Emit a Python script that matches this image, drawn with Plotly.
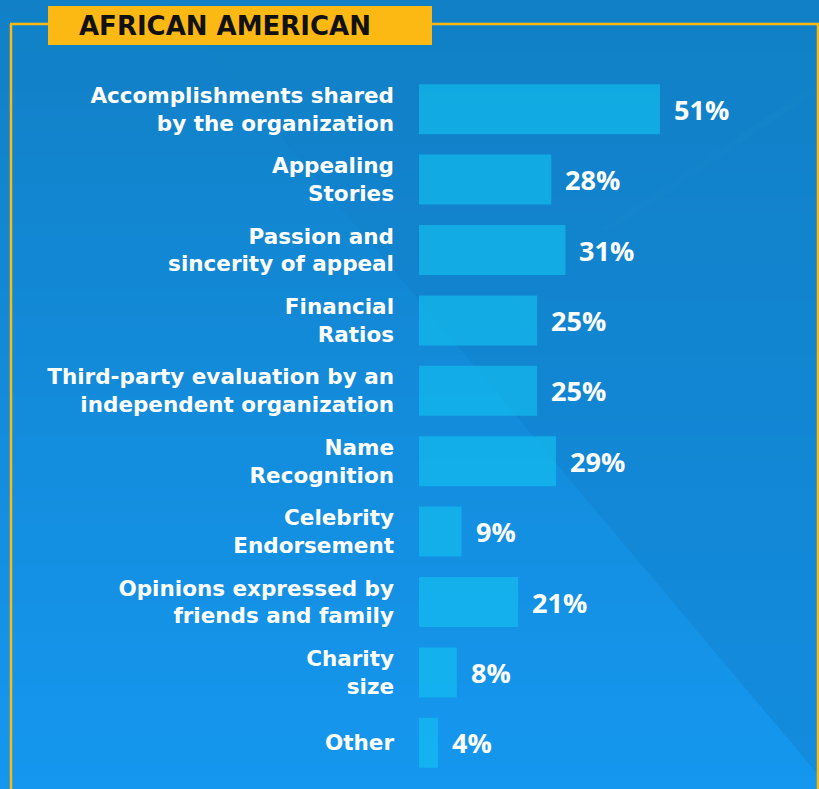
import plotly.graph_objects as go

# ---- data ----
categories = [
    "Accomplishments shared<br>by the organization",
    "Appealing<br>Stories",
    "Passion and<br>sincerity of appeal",
    "Financial<br>Ratios",
    "Third-party evaluation by an<br>independent organization",
    "Name<br>Recognition",
    "Celebrity<br>Endorsement",
    "Opinions expressed by<br>friends and family",
    "Charity<br>size",
    "Other",
]
values = [51, 28, 31, 25, 25, 29, 9, 21, 8, 4]
value_labels = [f"{v}%" for v in values]
title_text = "AFRICAN AMERICAN"

# ---- canvas geometry (pixels) ----
W, H = 819, 789
M_L, M_R, M_T, M_B = 419, 0, 74, 11
PLOT_W = W - M_L - M_R
PLOT_H = H - M_T - M_B
X_MAX = 84.66

YELLOW = "#FDB913"
LABEL_FONT = "DejaVu Sans"


def px_x(px):
    return (px - M_L) / PLOT_W


def px_y(py):
    return (H - M_B - py) / PLOT_H


def mix(c0, c1, t):
    return "rgb({},{},{})".format(*[round(a + (b - a) * t) for a, b in zip(c0, c1)])


shapes = []

# background: vertical gradient, with a slightly darker wedge on the right
left_top, left_bot = (17, 128, 198), (21, 151, 239)
right_top, right_bot = (17, 128, 198), (19, 140, 223)
N = 60
for i in range(N):
    y0 = H * i / N
    y1 = H * (i + 1) / N + 1
    t = (i + 0.5) / N
    shapes.append(dict(type="rect", xref="paper", yref="paper", layer="below",
                       x0=px_x(-2), x1=px_x(W + 2), y0=px_y(y1), y1=px_y(y0),
                       fillcolor=mix(left_top, left_bot, t), line_width=0))


def diag_x(py):
    return 166 + 0.842 * py


for i in range(N):
    y0 = H * i / N
    y1 = H * (i + 1) / N + 1
    t = (i + 0.5) / N
    path = "M {} {} L {} {} L {} {} L {} {} Z".format(
        px_x(diag_x(y0)), px_y(y0), px_x(W + 2), px_y(y0),
        px_x(W + 2), px_y(y1), px_x(diag_x(y1)), px_y(y1))
    shapes.append(dict(type="path", xref="paper", yref="paper", layer="below",
                       path=path, fillcolor=mix(right_top, right_bot, t), line_width=0))

# faint light streak in the upper right
shapes.append(dict(type="path", xref="paper", yref="paper", layer="below",
                   path="M {} {} L {} {} L {} {} L {} {} Z".format(
                       px_x(600), px_y(230), px_x(W + 2), px_y(80),
                       px_x(W + 2), px_y(90), px_x(612), px_y(230)),
                   fillcolor="rgba(255,255,255,0.012)", line_width=0))

# yellow frame (left, top, right)
frame = dict(type="line", xref="paper", yref="paper", layer="above",
             line=dict(color=YELLOW, width=2.5))
shapes.append({**frame, "x0": px_x(11), "x1": px_x(11), "y0": px_y(24), "y1": px_y(H + 2)})
shapes.append({**frame, "x0": px_x(10), "x1": px_x(W + 2), "y0": px_y(24), "y1": px_y(24)})
shapes.append({**frame, "x0": px_x(818), "x1": px_x(818), "y0": px_y(24), "y1": px_y(H + 2)})

# title box
shapes.append(dict(type="rect", xref="paper", yref="paper", layer="above",
                   x0=px_x(48), x1=px_x(432), y0=px_y(45), y1=px_y(6),
                   fillcolor=YELLOW, line_width=0))

fig = go.Figure(go.Bar(
    x=values,
    y=categories,
    orientation="h",
    marker=dict(color="rgba(18,196,242,0.6)", line_width=0),
    width=0.71,
    hoverinfo="skip",
))

annotations = [
    dict(x=v, y=c, xref="x", yref="y", text=t, showarrow=False,
         xanchor="left", yanchor="middle", xshift=12,
         font=dict(family="Open Sans", size=27, color="white", weight="bold"))
    for v, c, t in zip(values, categories, value_labels)
]
annotations.append(dict(
    x=px_x(77), y=px_y(26), xref="paper", yref="paper", text=title_text,
    showarrow=False, xanchor="left", yanchor="middle",
    font=dict(family=LABEL_FONT, size=26, color="#111111", weight="bold"),
))

fig.update_layout(
    width=W, height=H,
    margin=dict(l=M_L, r=M_R, t=M_T, b=M_B, autoexpand=False),
    paper_bgcolor="#1383CA",
    plot_bgcolor="rgba(0,0,0,0)",
    showlegend=False,
    shapes=shapes,
    annotations=annotations,
    xaxis=dict(range=[0, X_MAX], visible=False, fixedrange=True),
    yaxis=dict(
        categoryorder="array", categoryarray=categories,
        autorange="reversed", showgrid=False, zeroline=False, showline=False,
        ticks="", ticklabelstandoff=24, automargin=False,
        tickfont=dict(family=LABEL_FONT, size=21.5, color="white", weight="bold"),
    ),
)

fig.write_html("out.html")
